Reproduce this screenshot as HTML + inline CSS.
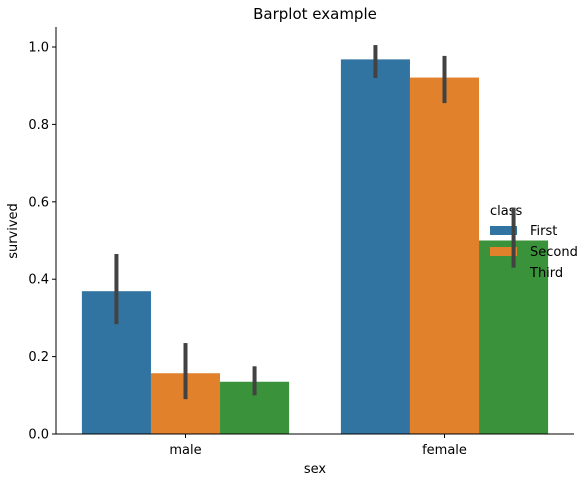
<!DOCTYPE html>
<html><head><style>body{margin:0;background:#fff}svg text{font-family:"DejaVu Sans","Liberation Sans",sans-serif;}</style></head>
<body>
<svg id="c" width="587" height="482" xmlns="http://www.w3.org/2000/svg">
<rect width="587" height="482" fill="#fff"/>
<text x="315" y="19" font-size="15" text-anchor="middle">Barplot example</text>
<g id="bars"></g>
<g id="legend">
<text x="490" y="215" font-size="13">class</text>
</g>
<g id="errs"></g>
<g id="axes"></g>
<text x="315" y="473" font-size="13" text-anchor="middle">sex</text>
<text transform="translate(17,231) rotate(-90)" font-size="13" text-anchor="middle">survived</text>
</svg>
<script>
const categories=["male","female"];
const series=["First","Second","Third"];
const colors=["#3274a1","#e1812c","#3a923a"];
const valFirst=[0.369,0.968];
const valSecond=[0.157,0.921];
const valThird=[0.135,0.500];
const loFirst=[0.284,0.92], hiFirst=[0.465,1.005];
const loSecond=[0.09,0.855], hiSecond=[0.235,0.977];
const loThird=[0.10,0.43], hiThird=[0.175,0.585];
const yTicks=[0,0.2,0.4,0.6,0.8,1.0];
const vals=[valFirst,valSecond,valThird],los=[loFirst,loSecond,loThird],his=[hiFirst,hiSecond,hiThird];
const NS="http://www.w3.org/2000/svg";
const x0=56,x1=574,yb=434,yt=47;
function y(v){return yb-v*(yb-yt);}
const step=(x1-x0)/2;
function xc(i){return x0+step*(i+0.5);}
const bw=step*0.8/3;
function mk(t,a,p){const e=document.createElementNS(NS,t);for(const k in a)e.setAttribute(k,a[k]);p.appendChild(e);return e;}
const B=document.getElementById('bars'),E=document.getElementById('errs'),A=document.getElementById('axes'),L=document.getElementById('legend');
categories.forEach((c,i)=>{series.forEach((s,j)=>{
 const bx=xc(i)-1.5*bw+j*bw;
 const r=mk('rect',{x:bx,y:y(vals[j][i]),width:bw,height:yb-y(vals[j][i]),fill:colors[j]},B);
 
 
 const l=mk('line',{x1:bx+bw/2,x2:bx+bw/2,y1:y(los[j][i]),y2:y(his[j][i]),stroke:'#424242','stroke-width':4},E);
 
 
});});
series.forEach((s,j)=>{
 const yy=230+j*21;
 const p=mk('rect',{x:490,y:yy-4,width:27,height:9,fill:colors[j]},L);
 
 
 const t=mk('text',{x:530,y:yy+5,'font-size':13},L);t.textContent=s;
 
 
});
mk('line',{x1:x0,x2:x0,y1:yt-20,y2:yb,stroke:'#000','stroke-width':1},A);
mk('line',{x1:x0,x2:x1,y1:yb,y2:yb,stroke:'#000','stroke-width':1},A);
yTicks.forEach(v=>{
 mk('line',{x1:x0-4,x2:x0,y1:y(v),y2:y(v),stroke:'#000'},A);
 const t=mk('text',{x:x0-7,y:y(v)+4.5,'font-size':13,'text-anchor':'end'},A);t.textContent=v.toFixed(1);
 
 
});
categories.forEach((c,i)=>{
 mk('line',{x1:xc(i),x2:xc(i),y1:yb,y2:yb+4,stroke:'#000'},A);
 const t=mk('text',{x:xc(i),y:yb+20,'font-size':13,'text-anchor':'middle'},A);t.textContent=c;
 
 
});
</script>
</body></html>
